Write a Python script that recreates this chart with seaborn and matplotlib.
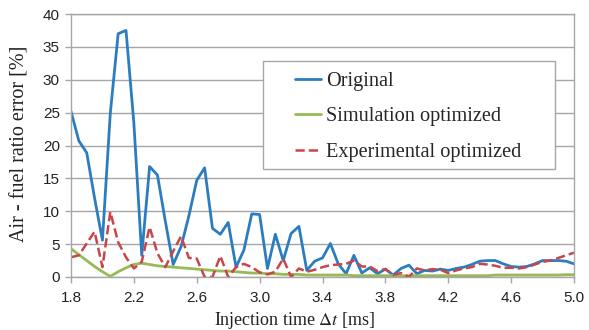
import matplotlib
matplotlib.use("Agg")
import matplotlib.pyplot as plt
import seaborn as sns
import numpy as np
import pandas as pd
from matplotlib.patches import Rectangle

# ---- data ----
injection_time = [1.80, 1.85, 1.90, 1.95, 2.00, 2.05, 2.10, 2.15, 2.20, 2.25,
                  2.30, 2.35, 2.40, 2.45, 2.50, 2.55, 2.60, 2.65, 2.70, 2.75,
                  2.80, 2.85, 2.90, 2.95, 3.00, 3.05, 3.10, 3.15, 3.20, 3.25,
                  3.30, 3.35, 3.40, 3.45, 3.50, 3.55, 3.60, 3.65, 3.70, 3.75,
                  3.80, 3.85, 3.90, 3.95, 4.00, 4.05, 4.10, 4.15, 4.20, 4.25,
                  4.30, 4.35, 4.40, 4.45, 4.50, 4.55, 4.60, 4.65, 4.70, 4.75,
                  4.80, 4.85, 4.90, 4.95, 5.00]

original = [25.2, 20.7, 18.9, 12.0, 5.6, 24.9, 37.0, 37.5, 23.4, 3.3,
            16.8, 15.5, 8.5, 1.9, 4.6, 9.3, 14.7, 16.6, 7.4, 6.5,
            8.3, 1.5, 4.1, 9.6, 9.5, 1.3, 6.5, 2.5, 6.6, 7.7,
            1.0, 2.4, 2.9, 5.1, 2.0, 0.5, 3.3, 0.6, 1.4, 0.5,
            1.2, 0.3, 1.3, 1.8, 0.5, 1.0, 0.9, 1.2, 1.0, 1.3,
            1.5, 1.9, 2.4, 2.5, 2.5, 2.0, 1.6, 1.5, 1.6, 2.0,
            2.5, 2.5, 2.5, 2.4, 2.0]

simulation_opt = [4.3, 3.4, 2.5, 1.6, 0.8, 0.1, 0.8, 1.4, 1.9, 2.1,
                  1.9, 1.7, 1.6, 1.5, 1.4, 1.3, 1.2, 1.1, 1.0, 0.9,
                  0.9, 0.8, 0.7, 0.6, 0.6, 0.5, 0.5, 0.4, 0.4, 0.4,
                  0.3, 0.3, 0.3, 0.3, 0.3, 0.3, 0.2, 0.2, 0.2, 0.2,
                  0.2, 0.2, 0.2, 0.2, 0.2, 0.2, 0.2, 0.2, 0.2, 0.2,
                  0.2, 0.2, 0.2, 0.2, 0.3, 0.3, 0.3, 0.3, 0.3, 0.3,
                  0.3, 0.3, 0.3, 0.35, 0.35]

experimental_opt = [3.0, 3.3, 5.1, 6.9, 1.5, 9.9, 5.3, 3.0, 1.3, 2.3,
                    7.6, 3.6, 1.5, 3.9, 6.2, 2.9, 2.8, 0.0, 0.0, 3.2,
                    0.0, 1.5, 2.0, 1.5, 0.7, 0.4, 0.8, 2.8, 0.0, 1.3,
                    0.8, 1.1, 1.5, 1.8, 1.9, 2.0, 2.5, 1.6, 1.6, 0.9,
                    1.2, 0.3, 0.6, 0.0, 1.3, 1.0, 1.2, 1.1, 0.6, 1.0,
                    1.3, 1.5, 2.0, 1.9, 1.7, 1.4, 1.4, 1.3, 1.5, 1.9,
                    2.3, 2.5, 2.9, 3.3, 3.7]

series_names = ["Original", "Simulation optimized", "Experimental optimized"]
x_ticks = [1.8, 2.2, 2.6, 3.0, 3.4, 3.8, 4.2, 4.6, 5.0]
y_ticks = [0, 5, 10, 15, 20, 25, 30, 35, 40]

# ---- style ----
sns.set_theme(style="white")
plt.rcParams["font.family"] = ["Liberation Sans", "DejaVu Sans"]
plt.rcParams["mathtext.fontset"] = "stix"

colors = {"Original": "#2C7DC0", "Simulation optimized": "#98BA55",
          "Experimental optimized": "#C8464A"}
grid_c = "#A6A6A6"

fig = plt.figure(figsize=(5.89, 3.30), dpi=100)
ax = fig.add_axes([71 / 589, 1 - 277 / 330, (574 - 71) / 589, (277 - 14) / 330])

data = [original, simulation_opt, experimental_opt]
styles = ["-", "-", "--"]
widths = [2.0, 2.0, 1.8]
for name, vals, ls, lw in zip(series_names, data, styles, widths):
    sns.lineplot(x=injection_time, y=vals, ax=ax, color=colors[name],
                 linestyle=ls, linewidth=lw, label=name, legend=False)

ax.set_xlim(1.8, 5.0)
ax.set_ylim(0, 40)
ax.set_xticks(x_ticks)
ax.set_xticklabels([f"{t:.1f}" for t in x_ticks])
ax.set_yticks(y_ticks)
ax.set_yticklabels([str(t) for t in y_ticks])
ax.yaxis.grid(True, color=grid_c, linewidth=1.0)
ax.xaxis.grid(False)
ax.set_axisbelow(True)
for side in ["left", "bottom", "right", "top"]:
    ax.spines[side].set_color(grid_c)
    ax.spines[side].set_linewidth(1.0)
ax.tick_params(axis="both", which="both", direction="out", length=4,
               width=1.0, color=grid_c, labelsize=11, labelcolor="#222222",
               left=True, bottom=True)
ax.tick_params(axis="x", pad=6)
ax.tick_params(axis="y", pad=4)

serif = ["Liberation Serif", "DejaVu Serif"]
ax.set_xlabel(r"Injection time $\Delta t$ [ms]", family=serif, fontsize=13,
              color="#222222", labelpad=0)
ax.xaxis.set_label_coords(0.445, -0.125)
ax.set_ylabel("Air - fuel ratio error [%]", family=serif, fontsize=14.5,
              color="#222222")
ax.yaxis.set_label_coords(-0.082, 0.505)

# legend box
ax.add_patch(Rectangle((0.382, 0.411), 0.962 - 0.382, 0.821 - 0.411,
                       transform=ax.transAxes, facecolor="white",
                       edgecolor=grid_c, linewidth=1.0, zorder=5))
leg = ax.legend(loc="upper left", bbox_to_anchor=(0.417, 0.834), frameon=False,
                prop={"family": serif, "size": 14.6}, handlelength=1.3,
                handletextpad=0.25, labelspacing=0.8, borderpad=0.2)
leg.set_zorder(6)

fig.savefig("out.png", dpi=100)
